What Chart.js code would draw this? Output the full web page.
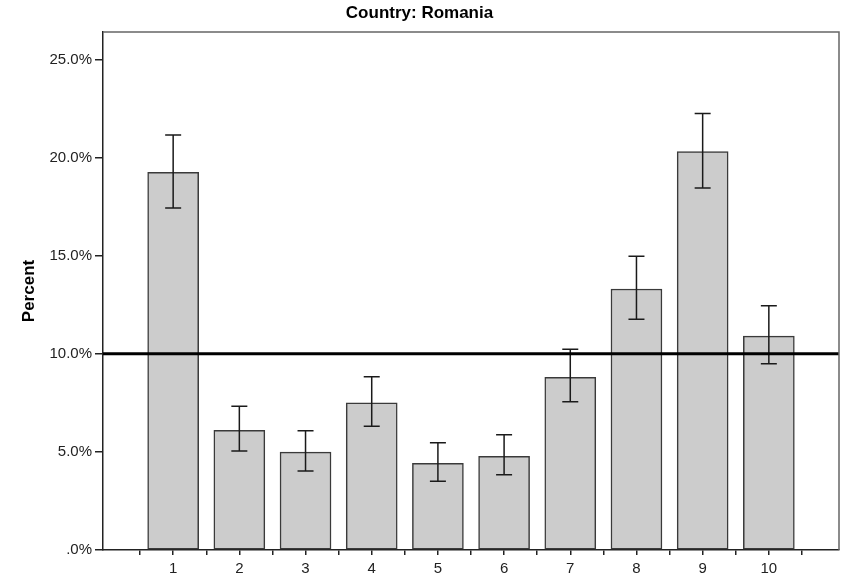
<!DOCTYPE html>
<html>
<head>
<meta charset="utf-8">
<script src="https://cdn.jsdelivr.net/npm/chart.js@4/dist/chart.umd.min.js"></script>
<style>
  html, body { margin: 0; padding: 0; background: #fff; }
  canvas { display: block; }
</style>
</head>
<body>
<canvas id="chart" width="844" height="576"></canvas>
<script>
// Category labels and values (percent)
const categories = ['1', '2', '3', '4', '5', '6', '7', '8', '9', '10'];
const means = [19.25, 6.10, 4.99, 7.50, 4.42, 4.78, 8.80, 13.30, 20.30, 10.90];
const lower = [17.43, 5.04, 4.02, 6.31, 3.51, 3.84, 7.55, 11.76, 18.45, 9.49];
const upper = [21.15, 7.33, 6.08, 8.83, 5.46, 5.87, 10.23, 14.97, 22.25, 12.45];
const yTicks = [0, 5, 10, 15, 20, 25];
const refValue = 10;

const FONT = '"Liberation Sans", Arial, sans-serif';

// Error bars, reference line and the grey frame
const overlayPlugin = {
    id: 'overlay',
    afterDatasetsDraw(chart) {
        const ctx = chart.ctx;
        const x = chart.scales.x;
        const y = chart.scales.y;
        const area = chart.chartArea;
        ctx.save();
        ctx.strokeStyle = '#1a1a1a';
        ctx.lineWidth = 1.5;
        categories.forEach((c, i) => {
            const px = x.getPixelForValue(i + 1);
            const top = y.getPixelForValue(upper[i]);
            const bot = y.getPixelForValue(lower[i]);
            ctx.beginPath();
            ctx.moveTo(px, top);
            ctx.lineTo(px, bot);
            ctx.moveTo(px - 8, top);
            ctx.lineTo(px + 8, top);
            ctx.moveTo(px - 8, bot);
            ctx.lineTo(px + 8, bot);
            ctx.stroke();
        });
        // reference line
        const ry = y.getPixelForValue(refValue);
        ctx.strokeStyle = '#000';
        ctx.lineWidth = 3;
        ctx.beginPath();
        ctx.moveTo(area.left, ry);
        ctx.lineTo(area.right, ry);
        ctx.stroke();
        // top and right frame
        ctx.strokeStyle = '#666';
        ctx.lineWidth = 1.5;
        ctx.beginPath();
        ctx.moveTo(area.left, area.top);
        ctx.lineTo(area.right, area.top);
        ctx.lineTo(area.right, area.bottom);
        ctx.stroke();
        ctx.restore();
    }
};

new Chart(document.getElementById('chart'), {
    type: 'bar',
    data: {
        datasets: [{
            data: categories.map((c, i) => ({ x: i + 1, y: means[i] })),
            backgroundColor: '#cccccc',
            borderColor: '#3a3a3a',
            borderWidth: 1.5,
            borderSkipped: false,
            barThickness: 51
        }]
    },
    options: {
        responsive: false,
        animation: false,
        layout: { padding: { left: 0, right: 5, top: 0, bottom: 0 } },
        plugins: {
            legend: { display: false },
            tooltip: { enabled: false },
            title: {
                display: true,
                text: 'Country: Romania',
                color: '#000',
                font: { family: FONT, size: 17, weight: 'bold' },
                padding: { top: 3, bottom: 8.6 }
            }
        },
        scales: {
            x: {
                type: 'linear',
                offset: false,
                min: -0.06,
                max: 11.06,
                afterBuildTicks(scale) {
                    const t = [];
                    for (let v = 0.5; v <= categories.length + 0.5; v += 0.5) t.push({ value: v });
                    scale.ticks = t;
                },
                afterFit(scale) { scale.height = 26; },
                grid: {
                    offset: false,
                    drawOnChartArea: false,
                    drawTicks: true,
                    tickLength: 5,
                    color: '#222',
                    lineWidth: 1.5
                },
                border: { display: true, color: '#222', width: 1.5 },
                ticks: {
                    autoSkip: false,
                    maxRotation: 0,
                    padding: 5,
                    color: '#222',
                    font: { family: FONT, size: 15 },
                    callback: (v) => Number.isInteger(v) ? (categories[v - 1] || '') : ''
                }
            },
            y: {
                min: 0,
                max: 26.4,
                afterBuildTicks(scale) {
                    scale.ticks = yTicks.map(v => ({ value: v }));
                },
                afterFit(scale) { scale.width = 103; },
                grid: {
                    drawOnChartArea: false,
                    drawTicks: true,
                    tickLength: 8,
                    color: '#222',
                    lineWidth: 1.5
                },
                border: { display: true, color: '#222', width: 1.5 },
                ticks: {
                    padding: 3,
                    color: '#222',
                    font: { family: FONT, size: 15 },
                    callback: (v) => v === 0 ? '.0%' : v.toFixed(1) + '%'
                },
                title: {
                    display: true,
                    text: 'Percent',
                    color: '#000',
                    font: { family: FONT, size: 17, weight: 'bold' },
                    padding: { top: 19, bottom: 0 }
                }
            }
        }
    },
    plugins: [overlayPlugin]
});
</script>
</body>
</html>
